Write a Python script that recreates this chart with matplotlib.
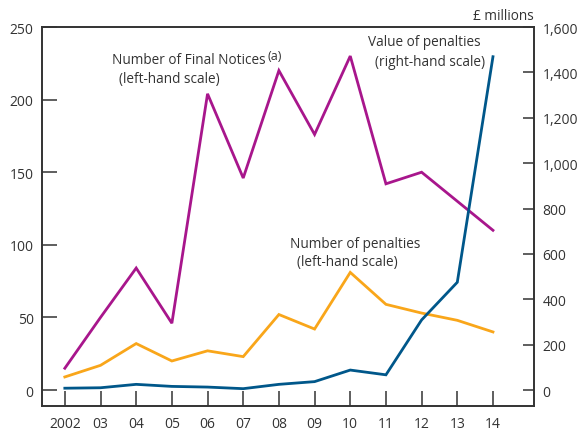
import matplotlib.pyplot as plt
from matplotlib.ticker import FuncFormatter

plt.rcParams['font.family'] = ['Open Sans', 'DejaVu Sans']

# Dati
anni = [2002, 2003, 2004, 2005, 2006, 2007, 2008, 2009, 2010, 2011, 2012, 2013, 2014]
etichette_anni = ['2002', '03', '04', '05', '06', '07', '08', '09', '10', '11', '12', '13', '14']
final_notices = [15, 50, 84, 46, 204, 146, 220, 176, 230, 142, 150, 130, 110]
num_penalties = [9, 17, 32, 20, 27, 23, 52, 42, 81, 59, 53, 48, 40]
valore_penalties = [8, 10, 25, 16, 13, 6, 25, 37, 88, 67, 309, 475, 1469]

testo = '#333333'
magenta = '#A8168C'
arancio = '#F9A61A'
blu = '#00578A'

fig = plt.figure(figsize=(5.79, 4.35), dpi=100)
ax = fig.add_axes([42 / 579, 1 - 407 / 435, (534 - 42) / 579, (407 - 28) / 435])
ax2 = ax.twinx()

ax.plot(anni, final_notices, color=magenta, linewidth=2.0, solid_joinstyle='miter')
ax.plot(anni, num_penalties, color=arancio, linewidth=2.0, solid_joinstyle='miter')
ax2.plot(anni, valore_penalties, color=blu, linewidth=2.0, solid_joinstyle='miter')

ax.set_xlim(2001.36, 2015.15)
ax.set_ylim(-11, 250)
ax2.set_ylim(-11 * 6.4, 1600)

ax.set_xticks(anni)
ax.set_xticklabels(etichette_anni)
ax.set_yticks([0, 50, 100, 150, 200, 250])
ax2.set_yticks([0, 200, 400, 600, 800, 1000, 1200, 1400, 1600])
ax2.yaxis.set_major_formatter(FuncFormatter(lambda v, p: f'{int(v):,}'))

for a in (ax, ax2):
    for s in a.spines.values():
        s.set_color(testo)
        s.set_linewidth(1.2)
ax.tick_params(axis='x', direction='in', length=11, width=1.1, color=testo,
               labelcolor=testo, labelsize=10, pad=7)
ax.tick_params(axis='y', direction='in', length=11, width=1.1, color=testo,
               labelcolor=testo, labelsize=10, pad=6)
ax2.tick_params(axis='y', direction='in', length=8, width=1.1, color=testo,
                labelcolor=testo, labelsize=10, pad=6)

# Etichette delle serie
fs = 9.8
fig.text(112 / 579, 1 - 60 / 435, 'Number of Final Notices', color=testo,
         fontsize=fs, va='center', ha='left')
fig.text(268 / 579, 1 - 56 / 435, '(a)', color=testo, fontsize=9, va='center', ha='left')
fig.text(119 / 579, 1 - 79 / 435, '(left-hand scale)', color=testo, fontsize=fs, va='center', ha='left')
fig.text(368 / 579, 1 - 43 / 435, 'Value of penalties', color=testo, fontsize=fs, va='center', ha='left')
fig.text(375 / 579, 1 - 62 / 435, '(right-hand scale)', color=testo, fontsize=fs, va='center', ha='left')
fig.text(290 / 579, 1 - 244 / 435, 'Number of penalties', color=testo, fontsize=fs, va='center', ha='left')
fig.text(297 / 579, 1 - 263 / 435, '(left-hand scale)', color=testo, fontsize=fs, va='center', ha='left')
fig.text(534 / 579, 1 - 16 / 435, '£ millions', color=testo, fontsize=fs, va='center', ha='right')

fig.savefig('out.png', dpi=100)
